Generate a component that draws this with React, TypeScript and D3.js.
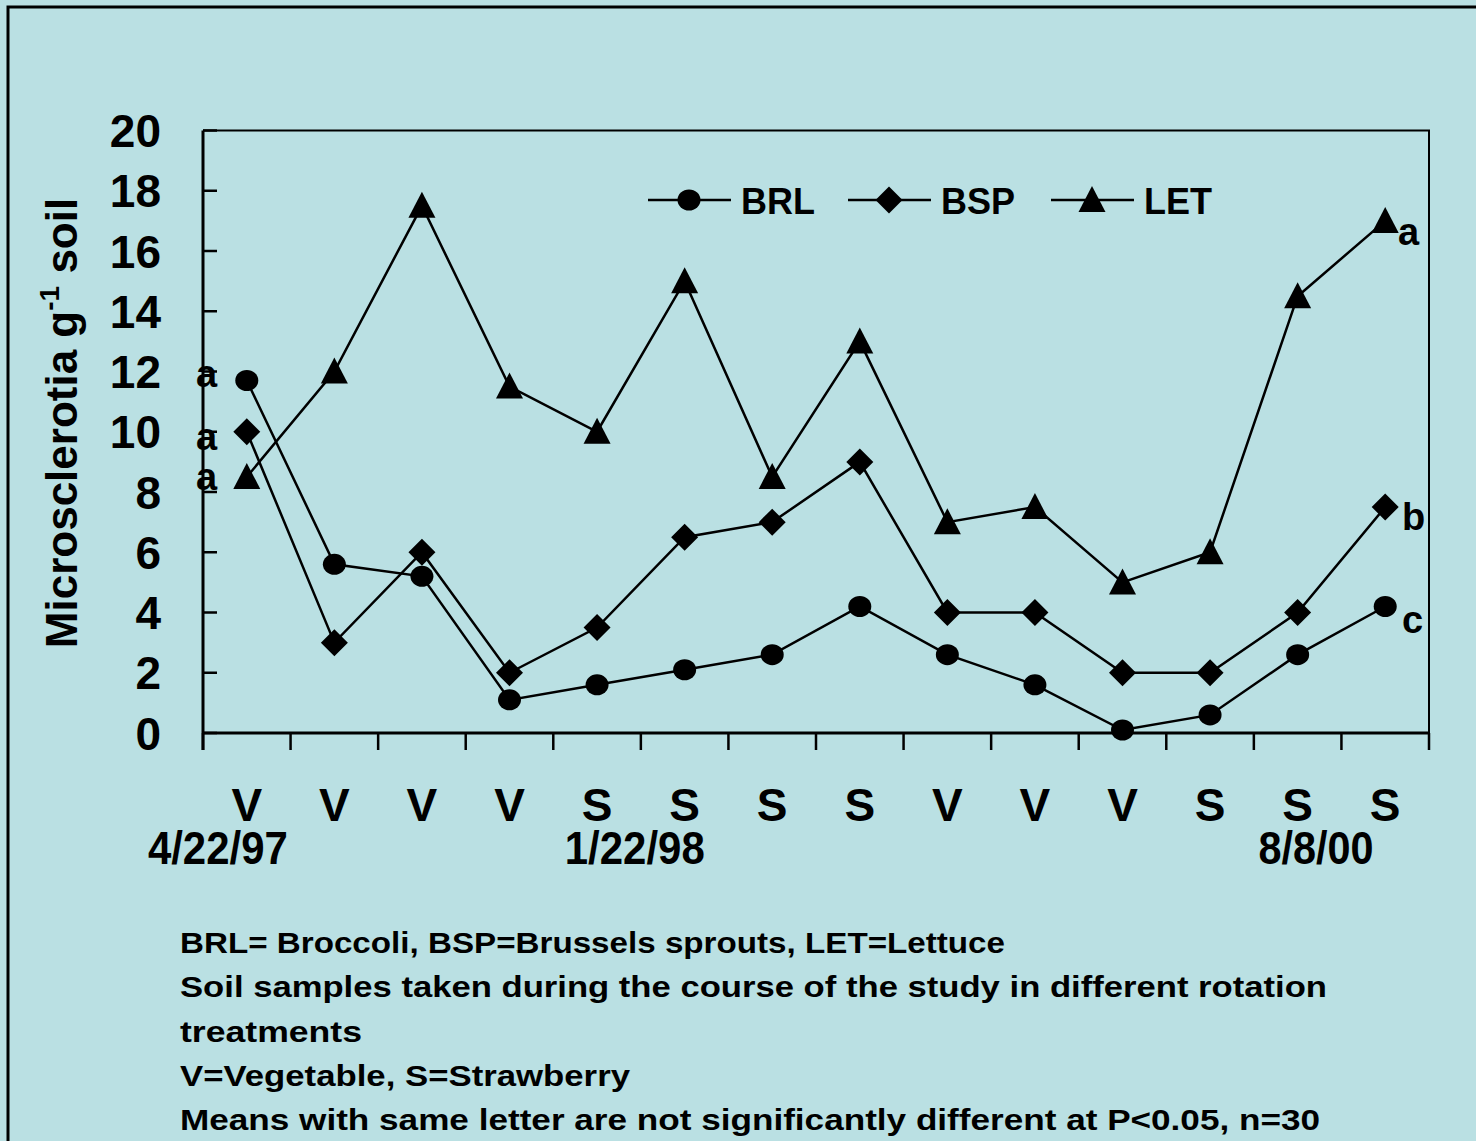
import React, { useRef, useEffect } from "react";
import * as d3 from "d3";

// sample rotation (V = vegetable, S = strawberry)
const categories = ["V", "V", "V", "V", "S", "S", "S", "S", "V", "V", "V", "S", "S", "S"];

// microsclerotia per g soil
const brlValues = [11.7, 5.6, 5.2, 1.1, 1.6, 2.1, 2.6, 4.2, 2.6, 1.6, 0.1, 0.6, 2.6, 4.2];
const bspValues = [10, 3, 6, 2, 3.5, 6.5, 7, 9, 4, 4, 2, 2, 4, 7.5];
const letValues = [8.5, 12, 17.5, 11.5, 10, 15, 8.5, 13, 7, 7.5, 5, 6, 14.5, 17];

const yTicks = [0, 2, 4, 6, 8, 10, 12, 14, 16, 18, 20];

// date labels placed at a fractional band position
const dateLabels = [
  { pos: 0.17, label: "4/22/97", width: 140 },
  { pos: 4.93, label: "1/22/98", width: 140 },
  { pos: 12.71, label: "8/8/00", width: 115 }
];

const seriesNames = ["BRL", "BSP", "LET"];

// significance letters: start / end of each series
const letters = [
  { series: "BRL", side: "left", letter: "a" },
  { series: "BSP", side: "left", letter: "a" },
  { series: "LET", side: "left", letter: "a" },
  { series: "LET", side: "right", letter: "a" },
  { series: "BSP", side: "right", letter: "b" },
  { series: "BRL", side: "right", letter: "c" }
];

const notes = [
  "BRL= Broccoli, BSP=Brussels sprouts, LET=Lettuce",
  "Soil samples taken during the course of the study in different rotation",
  "treatments",
  "V=Vegetable, S=Strawberry",
  "Means with same letter are not significantly different at P<0.05, n=30"
];
const noteWidths = [825, 1147, 182, 450, 1140];

const W = 1476;
const H = 1141;
const BG = "#bae0e3";
const FONT = "'Liberation Sans', Arial, sans-serif";

export default function App() {
  const svgRef = useRef<SVGSVGElement>(null);

  useEffect(() => {
    if (!svgRef.current) return;
    const svg = d3.select(svgRef.current);
    svg.selectAll("*").remove();

    const left = 203, right = 1429, top = 130.5, bottom = 733;

    const x = d3.scaleBand<number>().domain(d3.range(categories.length)).range([left, right]);
    const cx = (i: number) => (x(i) as number) + x.bandwidth() / 2;
    const y = d3.scaleLinear().domain([0, 20]).range([bottom, top]);

    svg.append("rect").attr("width", W).attr("height", H).attr("fill", BG);
    // outer frame
    svg.append("rect")
      .attr("x", 8).attr("y", 7).attr("width", W + 20).attr("height", H + 20)
      .attr("fill", "none").attr("stroke", "#000").attr("stroke-width", 3);

    // plot box (top/right thin)
    svg.append("path")
      .attr("d", `M${left},${top}H${right}V${bottom}`)
      .attr("fill", "none").attr("stroke", "#000").attr("stroke-width", 2);

    // y axis
    svg.append("line")
      .attr("x1", left).attr("x2", left).attr("y1", top).attr("y2", bottom + 17)
      .attr("stroke", "#000").attr("stroke-width", 3);
    svg.append("g").selectAll("line").data(yTicks).enter().append("line")
      .attr("x1", left).attr("x2", left + 14)
      .attr("y1", (d) => y(d)).attr("y2", (d) => y(d))
      .attr("stroke", "#000").attr("stroke-width", 2.5);
    svg.append("g").selectAll("text").data(yTicks).enter().append("text")
      .attr("x", 161).attr("y", (d) => y(d) + 16.5)
      .attr("text-anchor", "end")
      .attr("font-family", FONT).attr("font-size", 46).attr("font-weight", "bold")
      .text((d) => d);

    // x axis
    svg.append("line")
      .attr("x1", left).attr("x2", right).attr("y1", bottom).attr("y2", bottom)
      .attr("stroke", "#000").attr("stroke-width", 3);
    svg.append("g").selectAll("line").data(d3.range(categories.length + 1)).enter().append("line")
      .attr("x1", (i) => left + x.step() * i).attr("x2", (i) => left + x.step() * i)
      .attr("y1", bottom).attr("y2", bottom + 17)
      .attr("stroke", "#000").attr("stroke-width", 2.5);
    svg.append("g").selectAll("text").data(categories).enter().append("text")
      .attr("x", (_, i) => cx(i)).attr("y", 821)
      .attr("text-anchor", "middle")
      .attr("font-family", FONT).attr("font-size", 46).attr("font-weight", "bold")
      .text((d) => d);
    svg.append("g").selectAll("text").data(dateLabels).enter().append("text")
      .attr("x", (d) => left + x.step() * d.pos - d.width / 2).attr("y", 864)
      .attr("textLength", (d) => d.width).attr("lengthAdjust", "spacingAndGlyphs")
      .attr("font-family", FONT).attr("font-size", 46).attr("font-weight", "bold")
      .text((d) => d.label);

    // y title
    const title = svg.append("text")
      .attr("transform", "translate(77,423) rotate(-90)")
      .attr("text-anchor", "middle")
      .attr("font-family", FONT).attr("font-size", 44).attr("font-weight", "bold");
    title.append("tspan").text("Microsclerotia g");
    title.append("tspan").attr("font-size", 28).attr("dy", -18).text("-1");
    title.append("tspan").attr("dy", 18).text(" soil");

    // markers
    const symbolFor: Record<string, (g: d3.Selection<SVGGElement, unknown, null, undefined>) => void> = {
      BRL: (g) => { g.append("ellipse").attr("rx", 11.5).attr("ry", 10.5).attr("fill", "#000"); },
      BSP: (g) => { g.append("path").attr("d", "M0,-13.5L13.5,0L0,13.5L-13.5,0Z").attr("fill", "#000"); },
      LET: (g) => { g.append("path").attr("d", "M0,-14L13.5,12L-13.5,12Z").attr("fill", "#000"); }
    };

    const seriesData: Record<string, number[]> = { BRL: brlValues, BSP: bspValues, LET: letValues };
    const line = d3.line<number>().x((_, i) => cx(i)).y((d) => y(d));

    seriesNames.forEach((name) => {
      const vals = seriesData[name];
      svg.append("path").attr("d", line(vals) as string)
        .attr("fill", "none").attr("stroke", "#000").attr("stroke-width", 2.5);
      vals.forEach((v, i) => {
        const g = svg.append("g").attr("transform", `translate(${cx(i)},${y(v)})`);
        symbolFor[name](g as any);
      });
    });

    // legend
    const legendX = [648, 848, 1051];
    const legendY = 200;
    seriesNames.forEach((name, i) => {
      const x0 = legendX[i];
      svg.append("line").attr("x1", x0).attr("x2", x0 + 83)
        .attr("y1", legendY).attr("y2", legendY)
        .attr("stroke", "#000").attr("stroke-width", 2.5);
      const g = svg.append("g").attr("transform", `translate(${x0 + 41},${legendY})`);
      symbolFor[name](g as any);
      svg.append("text").attr("x", x0 + 93).attr("y", legendY + 14)
        .attr("font-family", FONT).attr("font-size", 36).attr("font-weight", "bold")
        .text(name);
    });

    // significance letters
    const letterOffset: Record<string, { dx: number; dy: number }> = {
      "BRL-left": { dx: 0, dy: 6 },
      "BSP-left": { dx: 0, dy: 18 },
      "LET-left": { dx: 0, dy: 13 },
      "LET-right": { dx: 0, dy: 24 },
      "BSP-right": { dx: 4, dy: 23 },
      "BRL-right": { dx: 4, dy: 27 }
    };
    letters.forEach((l) => {
      const vals = seriesData[l.series];
      const v = l.side === "left" ? vals[0] : vals[vals.length - 1];
      const off = letterOffset[`${l.series}-${l.side}`];
      const xx = l.side === "left" ? 196 : 1398 + off.dx;
      svg.append("text").attr("x", xx).attr("y", y(v) + off.dy)
        .attr("font-family", FONT).attr("font-size", 38).attr("font-weight", "bold")
        .text(l.letter);
    });

    // footnotes
    svg.append("g").selectAll("text").data(notes).enter().append("text")
      .attr("x", 180).attr("y", (_, i) => 953 + i * 44.3)
      .attr("textLength", (_, i) => noteWidths[i]).attr("lengthAdjust", "spacingAndGlyphs")
      .attr("font-family", FONT).attr("font-size", 30).attr("font-weight", "bold")
      .text((d) => d);
  }, []);

  return (
    <div style={{ position: "absolute", left: 0, top: 0 }}>
      <svg ref={svgRef} width={W} height={H} style={{ display: "block" }} />
    </div>
  );
}
